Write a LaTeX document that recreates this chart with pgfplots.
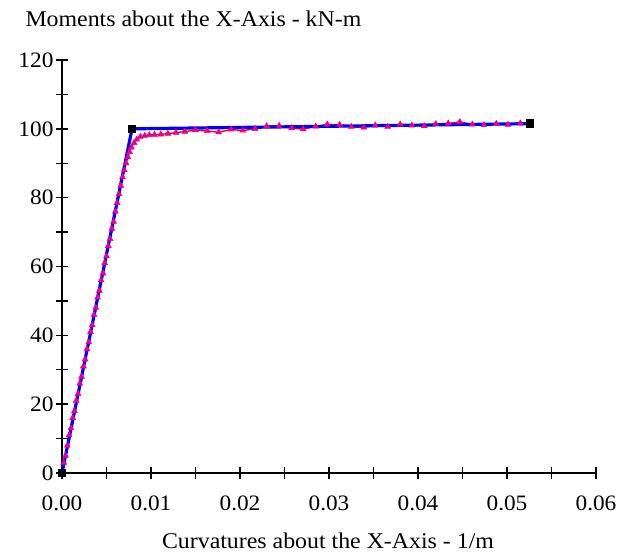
\documentclass[border=0pt]{standalone}
\usepackage{pgfplots}
\pgfplotsset{compat=1.18}
\usepackage{fontspec}
\setmainfont[FakeStretch=1.06]{Liberation Serif}
\begin{document}
\begin{tikzpicture}[x=1pt,y=1pt]
\begin{axis}[
  at={(62pt,84pt)}, anchor=south west,
  scale only axis, width=534pt, height=413pt,
  xmin=0, xmax=0.06, ymin=0, ymax=120,
  axis x line=bottom, axis y line=left,
  axis line style={-, line width=1.6pt, black},
  xtick={0,0.01,...,0.06}, ytick={0,20,...,120},
  minor x tick num=1, minor y tick num=1,
  tick align=center,
  major tick length=12pt, minor tick length=12pt,
  every tick/.style={black, line width=1.4pt},
  scaled x ticks=false,
  /pgf/number format/assume math mode=true,
  x tick label style={/pgf/number format/.cd, fixed, fixed zerofill, precision=2, /tikz/.cd, yshift=-13pt},
  y tick label style={xshift=1pt},
  ticklabel style={font=\fontsize{22}{24}\selectfont},
  clip=false,
]
\addplot[red, line width=1.4pt, mark=triangle*, mark size=3.4pt,
  mark options={magenta, draw=magenta, fill=magenta, line width=0.5pt}] coordinates {
(0.0000,0)(0.0002,3)(0.0004,5)(0.0006,8)(0.0008,11)(0.0010,13)(0.0012,16)(0.0014,18)
(0.0016,21)(0.0018,23)(0.0020,26)(0.0022,28)(0.0024,31)(0.0026,33)(0.0028,36)(0.0030,38)
(0.0032,41)(0.0034,43)(0.0036,46)(0.0038,48)(0.0040,51)(0.0042,53)(0.0044,56)(0.0046,58)
(0.0048,61)(0.0050,63)(0.0052,66)(0.0054,68)(0.0056,71)(0.0058,73)(0.0060,76)(0.0062,78.5)
(0.0064,81)(0.0066,83.5)(0.0068,86)(0.0070,88)(0.0072,90)(0.0074,91.8)(0.0076,93.3)(0.0078,94.6)
(0.0081,95.9)(0.0084,96.9)(0.0088,97.7)(0.0093,98.0)(0.0098,98.2)(0.0104,98.3)(0.0111,98.4)
(0.0119,98.6)(0.0128,98.9)(0.0138,99.2)(0.0150,99.6)(0.0163,99.4)(0.0176,99.0)(0.0190,99.8)
(0.0203,99.5)(0.0217,100.0)(0.0230,100.8)(0.0244,100.9)(0.0258,100.2)(0.0271,99.9)(0.0285,100.7)
(0.0298,101.3)(0.0312,101.2)(0.0325,100.6)(0.0339,100.4)(0.0352,101.0)(0.0366,100.6)(0.0380,101.3)
(0.0393,101.0)(0.0407,100.8)(0.0420,101.4)(0.0434,101.6)(0.0447,102.0)(0.0461,101.3)(0.0474,101.1)
(0.0488,101.5)(0.0501,101.2)(0.0515,101.6)(0.0527,101.3)
};
\addplot[blue, line width=3.2pt, mark=square*, mark size=3.8pt,
  mark options={black, fill=black, line width=0pt}] coordinates {
(0,0)(0.00787,100)(0.0526,101.5)
};
\end{axis}
\node[anchor=base west, font=\fontsize{22.5}{26}\selectfont] at (22pt,530pt) {Moments about the X-Axis - kN-m};
\node[anchor=base, font=\fontsize{22.5}{26}\selectfont] at (328pt,8pt) {Curvatures about the X-Axis - 1/m};
\pgfresetboundingbox
\path (0pt,0pt) rectangle (635pt,557pt);
\end{tikzpicture}
\end{document}
